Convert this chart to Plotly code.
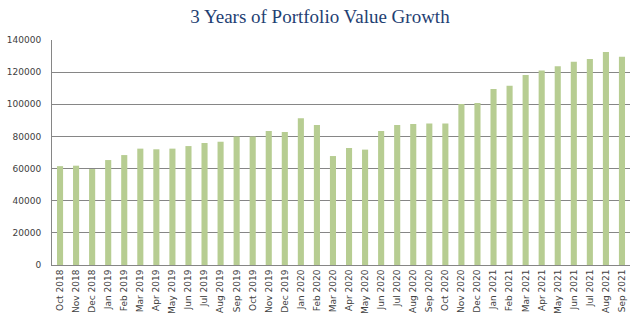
import plotly.graph_objects as go

months = ["Oct 2018","Nov 2018","Dec 2018","Jan 2019","Feb 2019","Mar 2019","Apr 2019","May 2019",
          "Jun 2019","Jul 2019","Aug 2019","Sep 2019","Oct 2019","Nov 2019","Dec 2019","Jan 2020",
          "Feb 2020","Mar 2020","Apr 2020","May 2020","Jun 2020","Jul 2020","Aug 2020","Sep 2020",
          "Oct 2020","Nov 2020","Dec 2020","Jan 2021","Feb 2021","Mar 2021","Apr 2021","May 2021",
          "Jun 2021","Jul 2021","Aug 2021","Sep 2021"]
values = [61500, 61800, 59700, 65300, 68400, 72400, 72000, 72400,
          74000, 75900, 76700, 80000, 80000, 83400, 82700, 91300,
          87100, 67800, 72800, 71800, 83400, 87100, 87700, 88100,
          88100, 100200, 100800, 109500, 111600, 118200, 121100, 123600,
          126500, 128200, 132500, 129600]
y_ticks = [0, 20000, 40000, 60000, 80000, 100000, 120000, 140000]
y_labels = [str(v) for v in y_ticks]

fig = go.Figure(go.Bar(x=months, y=values, marker=dict(color="#B7CD92", line=dict(width=0))))

fig.update_layout(
    width=640, height=329,
    margin=dict(l=52, r=10, t=40, b=64),
    paper_bgcolor="white", plot_bgcolor="white",
    bargap=0.62,
    showlegend=False,
    title=dict(text="3 Years of Portfolio Value Growth", x=0.5, xanchor="center", y=0.95, yanchor="middle",
               font=dict(family="Liberation Serif", size=19, color="#1F3F73")),
    font=dict(family="DejaVu Sans", size=9, color="#404040"),
)
fig.update_xaxes(tickangle=-90, showline=True, linecolor="#868686", linewidth=1, automargin=False,
                 ticks="", showgrid=False, tickfont=dict(size=9, color="#404040"))
fig.update_yaxes(range=[0, 140000], tickvals=y_ticks, ticktext=y_labels, showgrid=True,
                 gridcolor="#868686", gridwidth=1, automargin=False,
                 showline=True, linecolor="#868686", linewidth=1, ticks="", zeroline=False,
                 tickfont=dict(size=9, color="#404040"), ticklabelstandoff=8)

fig.write_html("out.html")
